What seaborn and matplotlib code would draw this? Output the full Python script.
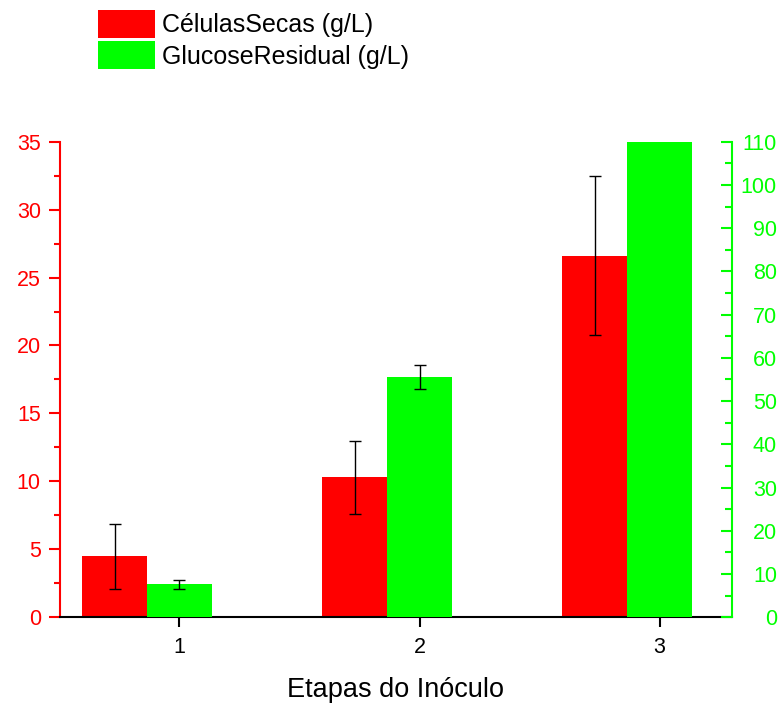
import numpy as np
import pandas as pd
import matplotlib
matplotlib.use("Agg")
import matplotlib.pyplot as plt
from matplotlib.ticker import MultipleLocator
from matplotlib.patches import Patch
import seaborn as sns

# data
stages = [1, 2, 3]
cells = [4.5, 10.3, 26.6]          # CélulasSecas (g/L), left axis
cells_err = [2.4, 2.7, 5.85]
glucose = [7.6, 55.5, 110.0]       # GlucoseResidual (g/L), right axis
glucose_err = [1.0, 2.8, np.nan]

RED = "#ff0000"
GREEN = "#00ff00"
bar_w = 0.27

sns.set_theme(style="ticks")
plt.rcParams["font.family"] = ["Liberation Sans", "DejaVu Sans"]

fig = plt.figure(figsize=(7.8, 7.04), dpi=100)
ax = fig.add_axes([0.0763, 0.1232, 0.8618, 0.6756])
ax2 = ax.twinx()

df = pd.DataFrame({"stage": stages, "cells": cells, "glucose": glucose})
df["x_red"] = df["stage"] - bar_w
df["x_green"] = df["stage"].astype(float)

sns.barplot(data=df, x="x_red", y="cells", native_scale=True, width=bar_w,
            color=RED, saturation=1, edgecolor="none", ax=ax)
sns.barplot(data=df, x="x_green", y="glucose", native_scale=True, width=bar_w,
            color=GREEN, saturation=1, edgecolor="none", ax=ax2)

ax.errorbar(df["x_red"], cells, yerr=cells_err, fmt="none", ecolor="black",
            elinewidth=1, capsize=4, capthick=1)
ax2.errorbar(df["x_green"], glucose, yerr=glucose_err, fmt="none", ecolor="black",
             elinewidth=1, capsize=4, capthick=1)

ax.set_xlim(0.501, 3.30)
ax.set_xticks(stages)
ax.set_xticklabels([str(s) for s in stages])
ax.set_ylim(0, 35)
ax2.set_ylim(0, 110)
ax.yaxis.set_major_locator(MultipleLocator(5))
ax.yaxis.set_minor_locator(MultipleLocator(2.5))
ax2.yaxis.set_major_locator(MultipleLocator(10))
ax2.yaxis.set_minor_locator(MultipleLocator(5))

for a in (ax, ax2):
    a.set_ylabel("")
    a.spines["top"].set_visible(False)
    a.grid(False)
ax.set_xlabel("Etapas do Inóculo", fontsize=19.5, labelpad=14, color="black")

ax.spines["left"].set_color(RED)
ax.spines["left"].set_linewidth(1.5)
ax.spines["bottom"].set_color("black")
ax.spines["bottom"].set_linewidth(1.5)
ax.spines["right"].set_visible(False)
ax2.spines["left"].set_visible(False)
ax2.spines["bottom"].set_visible(False)
ax2.spines["right"].set_color(GREEN)
ax2.spines["right"].set_linewidth(1.5)

ax.tick_params(axis="y", which="major", colors=RED, labelsize=15.5, length=7.7,
               width=1.5, direction="out", pad=5.8)
ax.tick_params(axis="y", which="minor", colors=RED, length=4.5, width=1.5, direction="out")
ax.tick_params(axis="x", which="major", colors="black", labelsize=15.5,
               length=7.2, width=1.5, direction="out", pad=7)
ax2.tick_params(axis="y", which="major", colors=GREEN, labelsize=15.5, length=7.7,
                width=1.5, direction="in", pad=32.6)
ax2.tick_params(axis="y", which="minor", colors=GREEN, length=4.8, width=1.5, direction="in")
for lab in ax2.get_yticklabels():
    lab.set_horizontalalignment("right")

handles = [Patch(facecolor=RED, edgecolor="none"), Patch(facecolor=GREEN, edgecolor="none")]
fig.legend(handles, ["CélulasSecas (g/L)", "GlucoseResidual (g/L)"],
           loc="upper left", bbox_to_anchor=(98 / 780, 1 - 10 / 704),
           frameon=False, fontsize=18, handlelength=2.27, handleheight=1.35,
           labelspacing=0.13, handletextpad=0.3, borderpad=0, borderaxespad=0,
           labelcolor="black")

fig.savefig("out.png", dpi=100)
